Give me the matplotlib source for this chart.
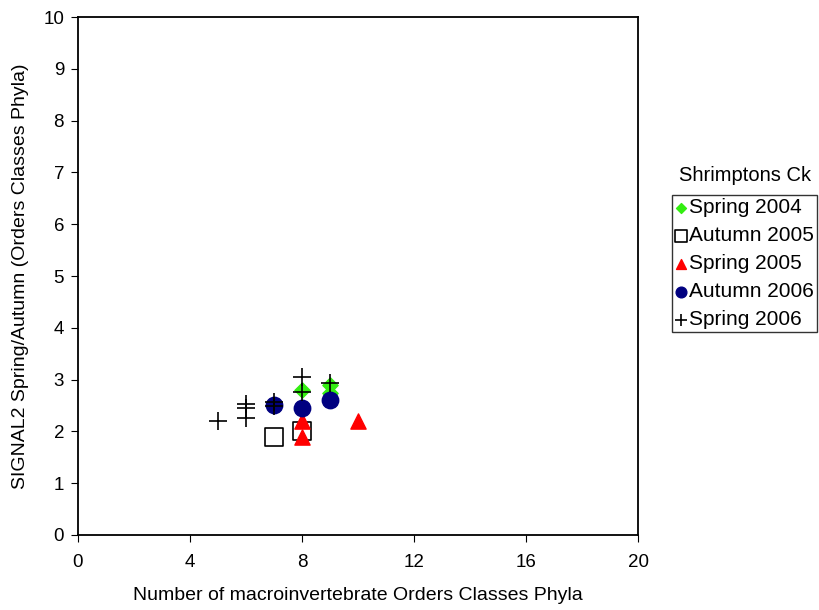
import matplotlib
matplotlib.use("Agg")
import matplotlib.pyplot as plt

plt.rcParams["font.family"] = ["Liberation Sans", "DejaVu Sans"]

# samples: number of orders/classes/phyla vs SIGNAL2 score
spring04_x = [8, 9, 9]
spring04_y = [2.8, 2.9, 2.75]
autumn05_x = [7, 8]
autumn05_y = [1.9, 2.0]
spring05_x = [8, 8, 10]
spring05_y = [2.2, 1.9, 2.2]
autumn06_x = [7, 8, 9]
autumn06_y = [2.5, 2.45, 2.6]
spring06_x = [5, 6, 6, 6, 7, 7, 8, 8, 9]
spring06_y = [2.2, 2.53, 2.45, 2.25, 2.57, 2.49, 3.05, 2.76, 2.93]

fig = plt.figure(figsize=(8.19, 6.10), dpi=100)
ax = fig.add_axes([0.0952, 0.123, 0.684, 0.849])

ax.scatter(spring04_x, spring04_y, marker="D", s=60, color="#33ee11", label="Spring 2004", zorder=3)
ax.scatter(autumn05_x, autumn05_y, marker="s", s=170, facecolor="white", edgecolor="black", linewidth=1.2, label="Autumn 2005", zorder=2)
ax.scatter(spring05_x, spring05_y, marker="^", s=120, color="#ff0000", label="Spring 2005", zorder=3)
ax.scatter(autumn06_x, autumn06_y, marker="o", s=140, color="#000080", label="Autumn 2006", zorder=3)
ax.scatter(spring06_x, spring06_y, marker="+", s=170, color="black", linewidth=1.2, label="Spring 2006", zorder=4)

ax.set_xlim(0, 20)
ax.set_ylim(0, 10)
ax.set_xticks([0, 4, 8, 12, 16, 20])
ax.set_yticks(range(0, 11))
ax.tick_params(direction="out", labelsize=13.5, length=5)
ax.tick_params(axis="x", pad=9)
ax.tick_params(axis="y", pad=5)
for s in ax.spines.values():
    s.set_linewidth(1.3)

ax.set_xlabel("Number of macroinvertebrate Orders Classes Phyla", fontsize=14, labelpad=11)
ax.set_ylabel("SIGNAL2 Spring/Autumn (Orders Classes Phyla)", fontsize=14, labelpad=10)

fig.text(0.91, 0.713, "Shrimptons Ck", ha="center", va="center", fontsize=14.5)
leg = fig.legend(loc="upper left", bbox_to_anchor=(0.8205, 0.68), fontsize=15,
                 frameon=True, fancybox=False, edgecolor="black", handletextpad=0.05,
                 handlelength=0.6, borderpad=0.15, labelspacing=0.43, borderaxespad=0,
                 markerscale=0.65)
leg.get_frame().set_linewidth(1.0)

fig.savefig("out.png", dpi=100)
